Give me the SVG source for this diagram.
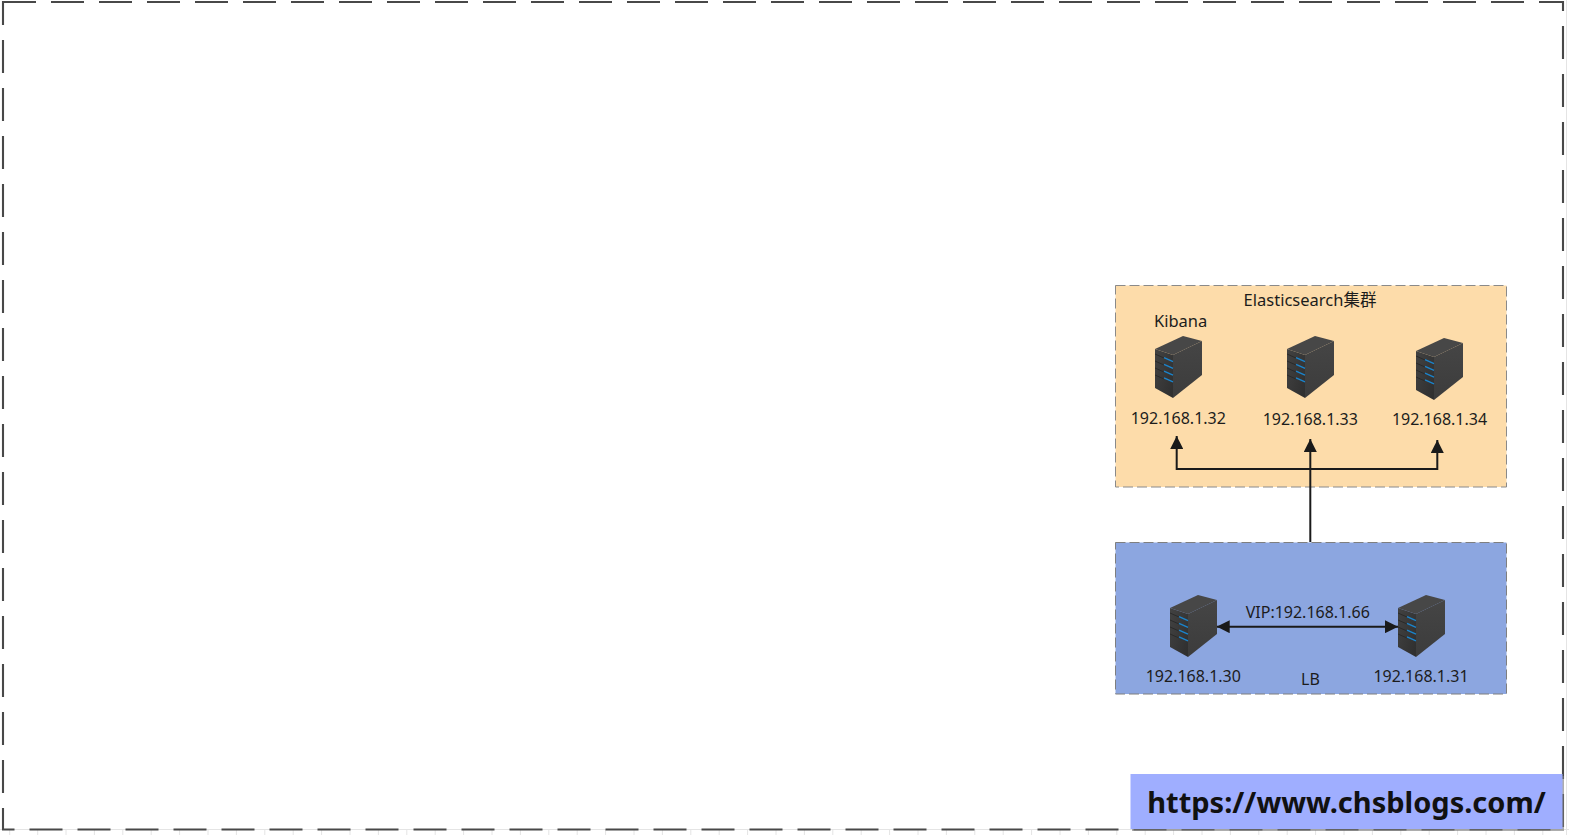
<svg xmlns="http://www.w3.org/2000/svg" width="1569" height="835" viewBox="0 0 1569 835">
<style>
.t{font-family:"Noto Sans","Noto Sans CJK SC",sans-serif;font-size:16px;fill:#1c1c1c}
.l{font-size:16.5px}
.m{text-anchor:middle}
.c{fill:none;stroke:#1a1a1a;stroke-width:2}
.slot{stroke:#2a2a2a;stroke-width:1;fill:none}
.led{stroke:#1b84cc;stroke-width:1.4;fill:none}
.tick{fill:none;stroke:#e4e4e4;stroke-width:1}
</style>
<defs>
<linearGradient id="gf" x1="0" y1="0" x2="1" y2="0.8"><stop offset="0" stop-color="#424242"/><stop offset="1" stop-color="#303030"/></linearGradient>
<linearGradient id="gr" x1="0" y1="0" x2="0" y2="1"><stop offset="0" stop-color="#454545"/><stop offset="1" stop-color="#3c3c3c"/></linearGradient>
<marker id="ah" viewBox="0 0 13 13" refX="13" refY="6.5" markerWidth="13" markerHeight="13" markerUnits="userSpaceOnUse" orient="auto-start-reverse"><path d="M0 0L13 6.5L0 13Z" fill="#1a1a1a"/></marker>
<g id="srv">
<polygon points="0,13 18,19 18,62 0,52" fill="url(#gf)"/>
<polygon points="18,19 47,5 47,39 18,62" fill="url(#gr)"/>
<polygon points="0,13 28,0 47,5 18,19" fill="#474747"/>
<path class="slot" d="M0 18L9 22M0 25L9 29M0 32L9 36M0 39L9 43"/>
<path class="led" d="M9 21.7L18 25.7M9 28.4L18 32.4M9 35.1L18 39.1M9 41.8L18 45.8"/>
</g>
</defs>
<rect width="1569" height="835" fill="#ffffff"/>
<path id="edge-ticks" class="tick" d="M0 829.500H1569M1566.500 0V835M9.700 830V835M37.700 830V835M66 830V835M94.400 830V835M122.800 830V835M151.200 830V835M179.600 830V835M208 830V835M236.400 830V835M264.800 830V835M293.200 830V835M321.600 830V835M350 830V835M378.400 830V835M406.800 830V835M435.200 830V835M463.600 830V835M492 830V835M520.400 830V835M548.800 830V835M577.200 830V835M605.600 830V835M634 830V835M662.400 830V835M690.800 830V835M719.200 830V835M747.600 830V835M776 830V835M804.400 830V835M832.800 830V835M861.200 830V835M889.600 830V835M918 830V835M946.400 830V835M974.800 830V835M1003.200 830V835M1031.600 830V835M1060 830V835M1088.400 830V835M1116.800 830V835M1145.200 830V835M1173.600 830V835M1202 830V835M1230.400 830V835M1258.800 830V835M1287.200 830V835M1315.600 830V835M1344 830V835M1372.400 830V835M1400.800 830V835M1429.200 830V835M1457.600 830V835M1486 830V835M1514.400 830V835M1542.800 830V835"/>
<rect id="frame" x="3" y="2" width="1560" height="827.500" fill="none" stroke="#484848" stroke-width="2.100" stroke-dasharray="33 15"/>
<g id="es-cluster">
<rect x="1115.500" y="285.500" width="391" height="201.500" fill="#fddcaa" stroke="#8a8a8a" stroke-dasharray="10 4"/>
<text class="t m l" x="1310" y="306">Elasticsearch集群</text>
</g>
<g id="lb-group">
<rect x="1115.500" y="542.500" width="391" height="151.500" fill="#8ca6e0" stroke="#7f7f7f" stroke-dasharray="10 4"/>
<text class="t m" x="1310.500" y="685">LB</text>
</g>
<g id="connectors">
<path class="c" d="M1310.300 542V439" marker-end="url(#ah)"/>
<path class="c" d="M1176.700 436V469H1437.300V440" marker-start="url(#ah)" marker-end="url(#ah)"/>
<path class="c" d="M1216.700 626.700H1398" marker-start="url(#ah)" marker-end="url(#ah)"/>
</g>
<g id="node-32"><use href="#srv" x="1155" y="336"/><text class="t l" x="1154" y="326.500">Kibana</text><text class="t m" x="1178.300" y="424">192.168.1.32</text></g>
<g id="node-33"><use href="#srv" x="1287" y="336"/><text class="t m" x="1310.300" y="425">192.168.1.33</text></g>
<g id="node-34"><use href="#srv" x="1416" y="338"/><text class="t m" x="1439.500" y="425">192.168.1.34</text></g>
<g id="node-30"><use href="#srv" x="1170" y="595"/><text class="t m" x="1193.300" y="681.500">192.168.1.30</text></g>
<g id="node-31"><use href="#srv" x="1398" y="595"/><text class="t m" x="1421" y="681.500">192.168.1.31</text></g>
<text id="vip" class="t m" x="1307.800" y="617.500">VIP:192.168.1.66</text>
<g id="watermark">
<rect x="1132" y="776" width="432" height="55" fill="#777777" opacity="0.6"/>
<rect x="1130.500" y="774" width="432" height="55" fill="#9faeff"/>
<text x="1346.500" y="813" text-anchor="middle" style="font-family:'Noto Sans',sans-serif;font-weight:700;font-size:29px;fill:#111111">https://www.chsblogs.com/</text>
</g>
</svg>
